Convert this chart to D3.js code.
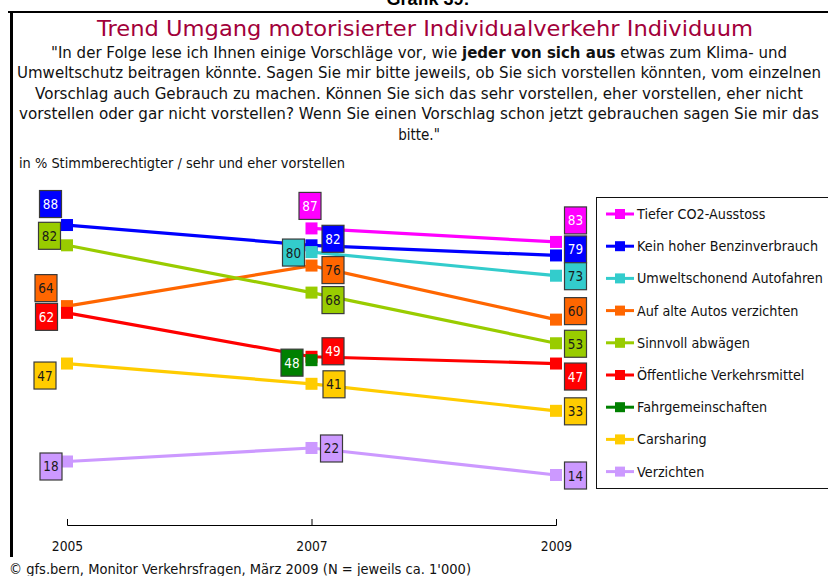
<!DOCTYPE html>
<html>
<head>
<meta charset="utf-8">
<script src="https://cdn.jsdelivr.net/npm/d3@7/dist/d3.min.js"></script>
<style>
  html, body { margin: 0; padding: 0; background: #fff; }
  svg { display: block; font-family: "DejaVu Sans", Verdana, sans-serif; }
</style>
</head>
<body>
<svg id="chart" width="828" height="576"></svg>
<script>
// ---- data -------------------------------------------------------------
const years = ["2005", "2007", "2009"];

const seriesNames = [
  "Tiefer CO2-Ausstoss",
  "Kein hoher Benzinverbrauch",
  "Umweltschonend Autofahren",
  "Auf alte Autos verzichten",
  "Sinnvoll abwägen",
  "Öffentliche Verkehrsmittel",
  "Fahrgemeinschaften",
  "Carsharing",
  "Verzichten"
];

// values per year (null = not asked that year)
const tieferCO2          = [null, 87, 83];
const benzinverbrauch    = [88, 82, 79];
const umweltschonend     = [null, 80, 73];
const alteAutos          = [64, 76, 60];
const sinnvollAbwaegen   = [82, 68, 53];
const oeffentlicheVM     = [62, 49, 47];
const fahrgemeinschaften = [null, 48, null];
const carsharing         = [47, 41, 33];
const verzichten         = [18, 22, 14];

const seriesValues = [
  tieferCO2, benzinverbrauch, umweltschonend, alteAutos, sinnvollAbwaegen,
  oeffentlicheVM, fahrgemeinschaften, carsharing, verzichten
];

// ---- styling ----------------------------------------------------------
const seriesColors = [
  "#FF00FF", "#0000FF", "#33CCCC", "#FF6600", "#99CC00",
  "#FF0000", "#008000", "#FFCC00", "#CC99FF"
];
const labelTextColors = [
  "#ffffff", "#ffffff", "#1a1a1a", "#1a1a1a", "#1a1a1a",
  "#ffffff", "#ffffff", "#1a1a1a", "#1a1a1a"
];
// value-box placement relative to its marker (pixels), per series and year
const labelOffsets = [
  [null, [-2, -23], [19, -22]],
  [[-17, -21.5], [21, -7], [19, -6.5]],
  [null, [-18.5, 0], [19, 0]],
  [[-21.5, -18.5], [21, 4], [19, -9]],
  [[-18, -10], [21, 7], [19, 0]],
  [[-21, 3.5], [21, -6], [19, 12.5]],
  [null, [-20, 2], null],
  [[-22.5, 11.5], [22, 0], [19, 0]],
  [[-16.5, 4.5], [19.5, 0], [19, 0]]
];

const svg = d3.select("#chart");
const W = 828, H = 576;

// squeeze text horizontally by a factor (narrow UI face look)
function condense(sel, k) {
  sel.each(function () {
    const n = this.getComputedTextLength();
    d3.select(this).attr("textLength", n * k).attr("lengthAdjust", "spacingAndGlyphs");
  });
}
function fitTo(sel, w) {
  sel.attr("textLength", w).attr("lengthAdjust", "spacingAndGlyphs");
}

// ---- frame + header ---------------------------------------------------
svg.append("text")
  .attr("x", 428).attr("y", 5)
  .attr("text-anchor", "middle")
  .style("font-family", "'Liberation Sans', Arial, sans-serif")
  .style("font-weight", "bold").style("font-size", "18px")
  .text("Grafik 39:");

svg.append("line").attr("x1", 8).attr("x2", W).attr("y1", 12).attr("y2", 12)
  .attr("stroke", "#000").attr("stroke-width", 2);
svg.append("line").attr("x1", 11.5).attr("x2", 11.5).attr("y1", 11).attr("y2", 557)
  .attr("stroke", "#000").attr("stroke-width", 3);

svg.append("text")
  .attr("x", 425).attr("y", 36)
  .attr("text-anchor", "middle")
  .attr("fill", "#A2003A")
  .style("font-size", "21px")
  .text("Trend Umgang motorisierter Individualverkehr Individuum")
  .call(fitTo, 656);

const cx = 419;
const sub = svg.append("g").style("font-size", "15px").attr("fill", "#111");
const l1 = sub.append("text").attr("x", cx).attr("y", 58).attr("text-anchor", "middle");
l1.append("tspan").text("\"In der Folge lese ich Ihnen einige Vorschläge vor, wie ");
l1.append("tspan").style("font-weight", "bold").text("jeder von sich aus");
l1.append("tspan").text(" etwas zum Klima- und");
fitTo(l1, 736);
const subLines = [
  ["Umweltschutz beitragen könnte. Sagen Sie mir bitte jeweils, ob Sie sich vorstellen könnten, vom einzelnen", 78, 804],
  ["Vorschlag auch Gebrauch zu machen. Können Sie sich das sehr vorstellen, eher vorstellen, eher nicht", 98.5, 768],
  ["vorstellen oder gar nicht vorstellen? Wenn Sie einen Vorschlag schon jetzt gebrauchen sagen Sie mir das", 119, 800]
];
subLines.forEach(([t, y, w]) => {
  sub.append("text").attr("x", cx).attr("y", y).attr("text-anchor", "middle").text(t).call(fitTo, w);
});
sub.append("text").attr("x", cx).attr("y", 139.5).attr("text-anchor", "middle")
  .text("bitte.\"").call(condense, 0.9);

svg.append("text")
  .attr("x", 19).attr("y", 168)
  .style("font-size", "14px").attr("fill", "#111")
  .text("in % Stimmberechtigter / sehr und eher vorstellen")
  .call(fitTo, 326);

// ---- scales -----------------------------------------------------------
const x = d3.scalePoint().domain(years).range([67, 556]);
const y = d3.scaleLinear().domain([0, 100]).range([522.3, 184.5]);

const series = seriesNames.map((name, i) => ({
  name, color: seriesColors[i], textColor: labelTextColors[i],
  points: years.map((yr, j) => ({ yr, v: seriesValues[i][j], off: labelOffsets[i][j] }))
}));

// ---- lines ------------------------------------------------------------
const line = d3.line()
  .defined(d => d.v != null)
  .x(d => x(d.yr)).y(d => y(d.v));

svg.append("g").selectAll("path").data(series).join("path")
  .attr("d", d => line(d.points))
  .attr("fill", "none")
  .attr("stroke", d => d.color)
  .attr("stroke-width", 3.2);

// ---- markers ----------------------------------------------------------
const ms = 12;
const markerG = svg.append("g");
series.forEach(s => {
  markerG.selectAll(null).data(s.points.filter(p => p.v != null)).join("rect")
    .attr("x", p => x(p.yr) - ms / 2).attr("y", p => y(p.v) - ms / 2)
    .attr("width", ms).attr("height", ms)
    .attr("fill", s.color);
});

// ---- value boxes ------------------------------------------------------
const bw = 22, bh = 27;
const labelG = svg.append("g");
series.forEach(s => {
  s.points.filter(p => p.v != null && p.off).forEach(p => {
    const lx = x(p.yr) + p.off[0], ly = y(p.v) + p.off[1];
    const g = labelG.append("g").attr("transform", `translate(${lx},${ly})`);
    g.append("rect")
      .attr("x", -bw / 2 + 0.5).attr("y", -bh / 2 + 0.5)
      .attr("width", bw).attr("height", bh)
      .attr("fill", s.color).attr("stroke", "#3a3a3a").attr("stroke-width", 1.2);
    g.append("text")
      .attr("x", 0.5).attr("y", 5.5)
      .attr("text-anchor", "middle")
      .style("font-size", "14px")
      .attr("fill", s.textColor)
      .text(p.v)
      .call(condense, 0.86);
  });
});

// ---- legend -----------------------------------------------------------
const legend = svg.append("g");
legend.append("rect")
  .attr("x", 596.5).attr("y", 197.5).attr("width", 260).attr("height", 291)
  .attr("fill", "none").attr("stroke", "#111").attr("stroke-width", 1);
const rowY = d3.scalePoint().domain(seriesNames).range([214, 471.6]);
const items = legend.selectAll("g.item").data(series).join("g")
  .attr("class", "item")
  .attr("transform", d => `translate(0,${rowY(d.name)})`);
items.append("line")
  .attr("x1", 606).attr("x2", 634)
  .attr("stroke", d => d.color).attr("stroke-width", 3);
items.append("rect")
  .attr("x", 615).attr("y", -5).attr("width", 10).attr("height", 10)
  .attr("fill", d => d.color);
const legendText = items.append("text")
  .attr("x", 637).attr("y", 5)
  .style("font-size", "14px").attr("fill", "#111")
  .text(d => d.name);
// common squeeze so the longest entry spans its measured width
const refNode = legendText.filter(d => d.name === "Kein hoher Benzinverbrauch").node();
const kLegend = 181 / refNode.getComputedTextLength();
legendText.call(condense, kLegend);

// ---- x axis -----------------------------------------------------------
const axisY = 525;
const axisG = svg.append("g")
  .attr("transform", `translate(0,${axisY})`)
  .call(d3.axisBottom(x).tickSizeInner(-6).tickSizeOuter(-6).tickPadding(16));
axisG.select(".domain").attr("stroke", "#000").attr("stroke-width", 1);
axisG.selectAll(".tick line").attr("stroke", "#000");
axisG.selectAll(".tick text")
  .style("font-family", "'DejaVu Sans', Verdana, sans-serif")
  .style("font-size", "14px").attr("fill", "#111")
  .call(condense, 0.88);

// ---- source -----------------------------------------------------------
svg.append("rect").attr("x", 0).attr("y", 559).attr("width", 480).attr("height", 17).attr("fill", "#fff");
svg.append("text")
  .attr("x", 9).attr("y", 574)
  .style("font-size", "14px").attr("fill", "#111")
  .text("© gfs.bern, Monitor Verkehrsfragen, März 2009 (N = jeweils ca. 1'000)")
  .call(fitTo, 462);
</script>
</body>
</html>
